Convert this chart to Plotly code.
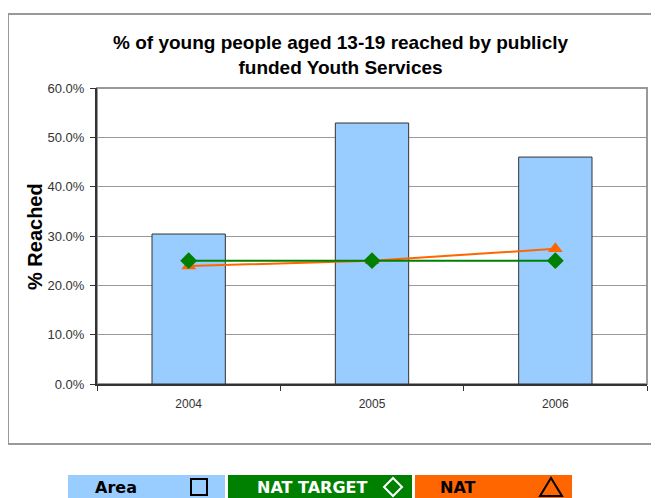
import plotly.graph_objects as go

# ------------------------------------------------------------
# data
# ------------------------------------------------------------
years = ["2004", "2005", "2006"]
area = [0.304, 0.529, 0.460]
nat_target = [0.25, 0.25, 0.25]
nat = [0.239, 0.250, 0.274]

y_ticks = [0, 0.1, 0.2, 0.3, 0.4, 0.5, 0.6]

# plot area in page pixels (659 x 498 window, body margin of 8px)
OFF = 8
L, R, T, B = 97, 647, 88, 384
W, H = R - L, B - T


def px(x):
    return (x - L) / W


def py(y):
    return (B - y) / H


fig = go.Figure()

fig.add_trace(go.Bar(
    x=years, y=area, name="Area", width=0.4,
    marker=dict(color="#99CCFF", line=dict(color="#333333", width=1)),
))
fig.add_trace(go.Scatter(
    x=years, y=nat, name="NAT", mode="lines+markers",
    line=dict(color="#FF6600", width=2),
    marker=dict(symbol="triangle-up", size=13, color="#FF6600"),
))
fig.add_trace(go.Scatter(
    x=years, y=nat_target, name="NAT TARGET", mode="lines+markers",
    line=dict(color="#008000", width=2),
    marker=dict(symbol="diamond", size=13, color="#008000"),
))

frame = dict(color="#999999", width=2)
shapes = [
    # outer chart frame (open on the right, runs off the page)
    dict(type="path", xref="paper", yref="paper",
         path="M %f,%f L %f,%f L %f,%f L %f,%f" % (
             px(700), py(14), px(8), py(14), px(8), py(444), px(700), py(444)),
         line=frame, layer="below"),
    # plot area frame
    dict(type="rect", xref="paper", yref="paper", x0=0, x1=1, y0=0, y1=1,
         line=frame, layer="below"),
]

# custom legend boxes
legend_items = [
    ("Area", "#99CCFF", "black", 68, 225, 116),
    ("NAT TARGET", "#008000", "white", 228, 412, 312),
    ("NAT", "#FF6600", "black", 415, 572, 458),
]
annotations = []
for label, fill, fcol, x0, x1, xc in legend_items:
    shapes.append(dict(type="rect", xref="paper", yref="paper",
                       x0=px(x0), x1=px(x1), y0=py(500), y1=py(475),
                       fillcolor=fill, line=dict(width=0)))
    annotations.append(dict(text="<b>%s</b>" % label, xref="paper", yref="paper",
                            x=px(xc), y=py(487), xanchor="center", yanchor="middle",
                            showarrow=False,
                            font=dict(family="DejaVu Sans", size=16, color=fcol)))

# legend symbols
shapes.append(dict(type="rect", xref="paper", yref="paper",
                   x0=px(191), x1=px(207), y0=py(495), y1=py(479),
                   line=dict(color="black", width=2)))
shapes.append(dict(type="path", xref="paper", yref="paper",
                   path="M %f,%f L %f,%f L %f,%f L %f,%f Z" % (
                       px(384), py(487), px(393), py(478),
                       px(402), py(487), px(393), py(496)),
                   line=dict(color="white", width=2)))
shapes.append(dict(type="path", xref="paper", yref="paper",
                   path="M %f,%f L %f,%f L %f,%f Z" % (
                       px(540), py(496), px(551), py(478), px(562), py(496)),
                   line=dict(color="black", width=2)))

# title and y axis title
annotations.append(dict(
    text="<b>% of young people aged 13-19 reached by publicly<br>funded Youth Services</b>",
    xref="paper", yref="paper", x=px(340), y=py(55), xanchor="center", yanchor="middle",
    showarrow=False,
    font=dict(family="Liberation Sans", size=19, color="black")))
annotations.append(dict(
    text="<b>% Reached</b>", xref="paper", yref="paper", x=px(35), y=py(237),
    xanchor="center", yanchor="middle", textangle=-90, showarrow=False,
    font=dict(family="Liberation Sans", size=20, color="black")))

fig.update_layout(
    width=659 - OFF, height=498 - OFF,
    margin=dict(l=L - OFF, r=659 - R, t=T - OFF, b=498 - B),
    plot_bgcolor="white", paper_bgcolor="white",
    showlegend=False,
    shapes=shapes, annotations=annotations,
    font=dict(family="Liberation Sans", size=13, color="#333333"),
    xaxis=dict(
        type="category", tickson="boundaries", ticks="outside", ticklen=5,
        tickcolor="#333333", showline=True, linecolor="#333333", linewidth=2,
        showgrid=False, tickfont=dict(size=12), ticklabelstandoff=8,
    ),
    yaxis=dict(
        range=[0, 0.6], tickvals=y_ticks, tickformat=".1%", ticks="outside",
        ticklen=5, tickcolor="#333333", showline=True, linecolor="#333333",
        linewidth=2, gridcolor="#999999", gridwidth=1, zeroline=False,
        tickfont=dict(size=13), ticklabelstandoff=3,
    ),
)

fig.write_html("out.html")
